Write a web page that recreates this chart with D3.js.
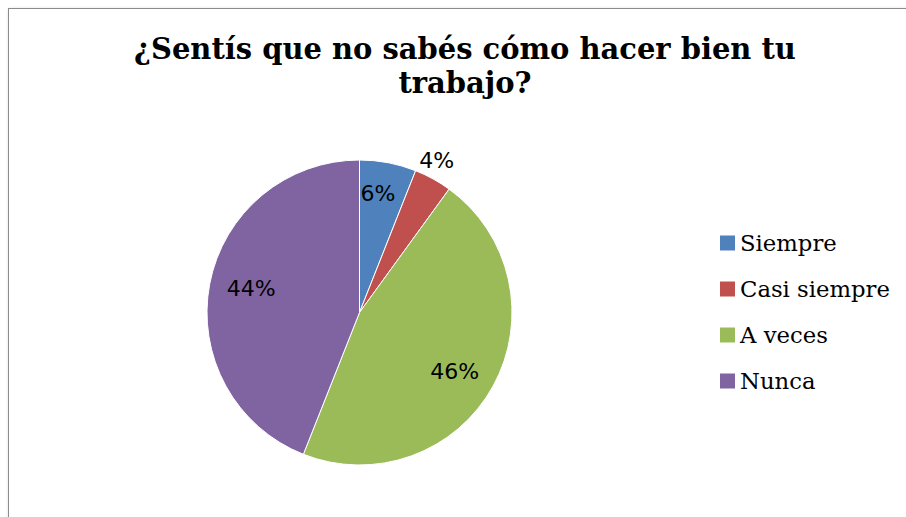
<!DOCTYPE html>
<html><head><meta charset="utf-8">
<script src="https://cdn.jsdelivr.net/npm/d3@7"></script>
<style>body{margin:0;background:#fff}svg{display:block}</style>
</head><body>
<script>
const titleLines = ["¿Sentís que no sabés cómo hacer bien tu", "trabajo?"];
const categories = ["Siempre", "Casi siempre", "A veces", "Nunca"];
const values = [6, 4, 46, 44];
const colors = ["#4F81BD", "#C0504D", "#9BBB59", "#8064A2"];
// label placement (radius, angle nudge in degrees)
const labelRadius = [121, 171, 112, 111];
const labelAngleNudge = [-2, -2, 3, 2];

const W = 906, H = 517;
const svg = d3.select("body").append("svg").attr("width", W).attr("height", H);

const defs = svg.append("defs");
const f = defs.append("filter").attr("id","sh").attr("x","-5%").attr("y","-5%").attr("width","110%").attr("height","110%");
f.append("feDropShadow").attr("dx",2).attr("dy",2).attr("stdDeviation",2).attr("flood-color","#000").attr("flood-opacity",0.35);

svg.append("rect").attr("x", 8.5).attr("y", 8.5).attr("width", 1000).attr("height", 1000)
  .attr("fill", "#fff").attr("stroke", "#8c8c8c").attr("stroke-width", 1).attr("filter","url(#sh)");

function fit(sel, target) {
  const w = sel.node().getComputedTextLength();
  const fs = parseFloat(sel.attr("font-size"));
  sel.attr("font-size", fs * target / w);
}

// title
const t1 = svg.append("text").attr("x", 465).attr("y", 59).attr("text-anchor","middle")
  .attr("font-family","DejaVu Serif").attr("font-weight","bold").attr("font-size",30).attr("fill","#000").text(titleLines[0]);
fit(t1, 662);
const t2 = svg.append("text").attr("x", 465).attr("y", 93).attr("text-anchor","middle")
  .attr("font-family","DejaVu Serif").attr("font-weight","bold").attr("font-size",t1.attr("font-size")).attr("fill","#000").text(titleLines[1]);

// pie
const cx = 359.5, cy = 312.5, R = 152.5;
const pie = d3.pie().sort(null).value(d => d);
const arcs = pie(values);
const arc = d3.arc().innerRadius(0).outerRadius(R);
const g = svg.append("g").attr("transform", `translate(${cx},${cy})`);
g.selectAll("path").data(arcs).join("path")
  .attr("d", arc).attr("fill", (d,i) => colors[i]).attr("stroke", "#fff").attr("stroke-width", 1);

const total = d3.sum(values);
g.selectAll("text.lbl").data(arcs).join("text").attr("class","lbl")
  .attr("x", (d,i) => { const a = (d.startAngle + d.endAngle)/2 + labelAngleNudge[i]*Math.PI/180; return labelRadius[i]*Math.sin(a); })
  .attr("y", (d,i) => { const a = (d.startAngle + d.endAngle)/2 + labelAngleNudge[i]*Math.PI/180; return -labelRadius[i]*Math.cos(a); })
  .attr("dy", "0.36em").attr("text-anchor","middle")
  .attr("font-family","DejaVu Sans").attr("font-size", 22).attr("fill","#000")
  .text(d => Math.round(d.value / total * 100) + "%");

// legend
const leg = svg.append("g");
const ly = d3.scalePoint().domain(categories).range([243, 381]);
categories.forEach((c, i) => {
  leg.append("rect").attr("x", 720).attr("y", ly(c) - 7.5).attr("width", 15).attr("height", 15).attr("fill", colors[i]);
  const t = leg.append("text").attr("x", 740).attr("y", ly(c)).attr("dy","0.35em")
    .attr("font-family","DejaVu Serif").attr("font-size", 22).attr("fill","#000").text(c);
  if (i === 1) fit(t, 150);
});
const fsz = leg.selectAll("text").filter((d,i)=>i===1).attr("font-size");
leg.selectAll("text").attr("font-size", fsz);
</script>
</body></html>
